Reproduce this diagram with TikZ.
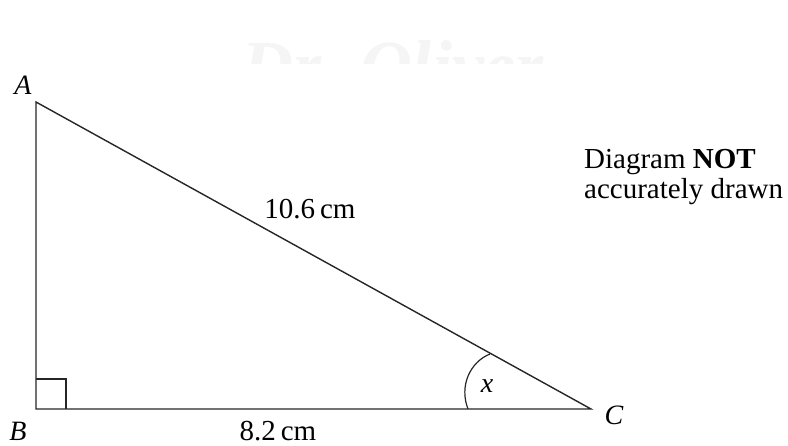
\documentclass[tikz,border=0pt]{standalone}
\usepackage{fontspec}
\setmainfont{Liberation Serif}
\usetikzlibrary{calc}
\begin{document}
\begin{tikzpicture}[x=1pt,y=-1pt,
  edge/.style={line width=1.4pt,draw=black!85},
  thin edge/.style={line width=1.2pt,draw=black!85},
  vlabel/.style={font=\fontsize{28}{32}\selectfont\itshape,inner sep=0pt},
  lenlabel/.style={font=\fontsize{29}{33}\selectfont,inner sep=0pt,anchor=base},
  note/.style={font=\fontsize{29}{33}\selectfont,inner sep=0pt,anchor=base west}]
\useasboundingbox (0,0) rectangle (788,445);
% watermark
\begin{scope}
\clip (200,0) rectangle (600,63);
\node[font=\fontsize{72}{80}\selectfont\itshape\bfseries,text=black!4,inner sep=0pt,anchor=base] (wm) at (400,90) {Dr. Oliver.};
\end{scope}
\coordinate (A) at (36,102);
\coordinate (B) at (36,409);
\coordinate (C) at (591,409);
\coordinate (arcS) at (468,409);
\coordinate (arcE) at (490,354);
\draw[edge] (A) -- (B) -- (C) -- cycle;
\draw[thin edge] ($(B)+(0,-30)$) -- ++(30,0) -- ++(0,30);
\draw[thin edge] (arcS) .. controls (459,386) and (470,362) .. (arcE);
\node[vlabel] (lA) at (23,85) {A};
\node[vlabel,anchor=base] (lB) at (18,440) {B};
\node[vlabel] (lC) at (614,415) {C};
\node[vlabel] (lx) at (487,386) {x};
\node[lenlabel] (hyp) at (310,218) {10.6\,cm};
\node[lenlabel] (base) at (278,440) {8.2\,cm};
\node[note] (n1) at (584,168) {Diagram \textbf{NOT}};
\node[note] (n2) at (584,198) {accurately drawn};
\end{tikzpicture}
\end{document}
